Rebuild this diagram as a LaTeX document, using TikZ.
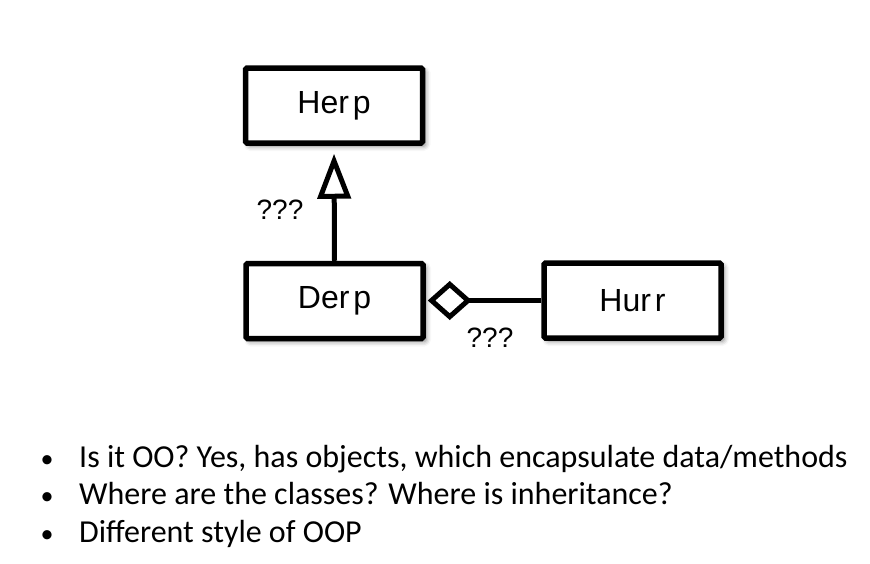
\documentclass[tikz,border=0pt]{standalone}
\usepackage{fontspec}
\setmainfont{Carlito}
\newfontfamily\helv{Liberation Sans}
\usetikzlibrary{arrows.meta,shadows.blur}
\tikzset{
  classbox/.style={draw=black, line width=5.5pt, fill=white, rounded corners=1.5pt,
    minimum width=177pt, minimum height=75pt, inner sep=0pt,
    font=\helv\fontsize{32}{36}\selectfont,
    blur shadow={shadow xshift=3pt, shadow yshift=-3pt, shadow blur radius=5pt, shadow opacity=50}},
  conn/.style={draw=black, line width=5pt},
  qlabel/.style={font=\helv\fontsize{28}{32}\selectfont, inner sep=0pt},
  bullettext/.style={anchor=base west, inner sep=0pt, font=\fontsize{32}{36}\selectfont},
  bulletdot/.style={anchor=base, inner sep=0pt, font=\fontsize{26}{36}\selectfont}
}
\begin{document}
\begin{tikzpicture}[x=1pt,y=-1pt]
\useasboundingbox (0,0) rectangle (870,563);
\node[classbox] (herp) at (334,105.5) {\raisebox{-2pt}{Her\kern0.12em p}};
\node[classbox] (derp) at (334.5,301) {\raisebox{-1pt}{Der\kern0.12em p}};
\node[classbox] (hurr) at (632.5,300.5) {\raisebox{-1pt}{Hur\kern0.12em r}};
\draw[conn, -{Triangle[open, length=45pt, width=33pt, line width=5pt]}, shorten >=8pt] (derp.north) -- (herp.south);
\draw[conn, -{Diamond[open, length=44pt, width=39pt, line width=5pt]}, shorten >=2pt] (hurr.west) -- (derp.east |- hurr.west);
\node[qlabel] (q1) at (280,210) {???};
\node[qlabel] (q2) at (490,338) {???};
\node[bulletdot] (b1) at (47,467) {•};
\node[bulletdot] (b2) at (47,504.5) {•};
\node[bulletdot] (b3) at (47,542) {•};
\node[bullettext] (t1) at (79,467) {Is it OO? Yes, has objects, which encapsulate data/methods};
\node[bullettext] (t2) at (79,504.5) {Where are the classes? Where is inheritance?};
\node[bullettext] (t3) at (79,542) {Different style of OOP};
\end{tikzpicture}
\end{document}
